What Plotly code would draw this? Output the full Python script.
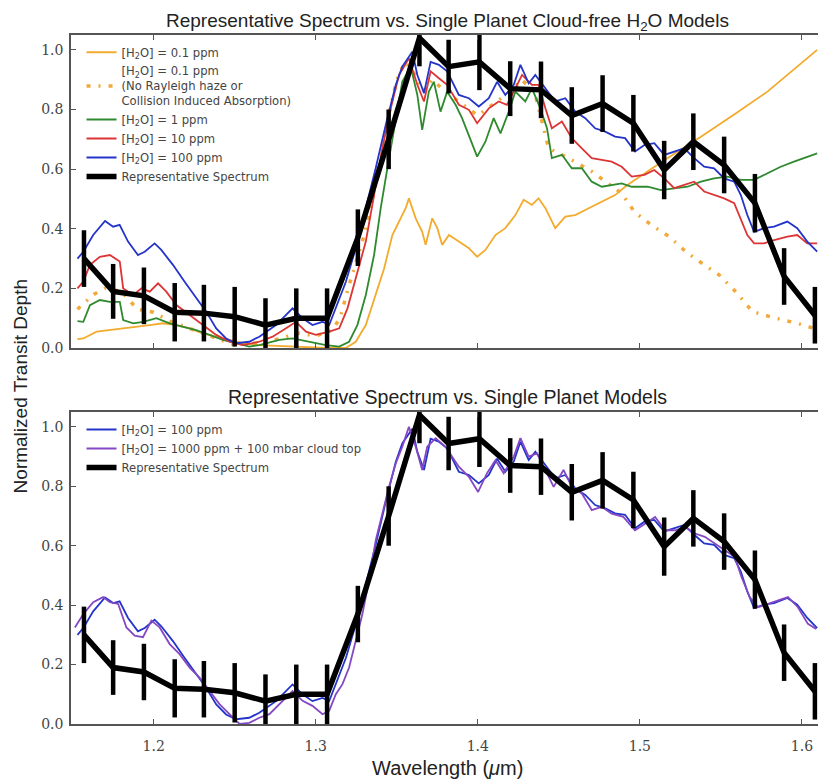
import plotly.graph_objects as go

# ---------------- data ----------------
rep_x = [1.157, 1.175, 1.194, 1.213, 1.231, 1.250, 1.269, 1.288, 1.307, 1.326, 1.345, 1.364, 1.382,
         1.401, 1.420, 1.439, 1.458, 1.477, 1.496, 1.515, 1.533, 1.552, 1.571, 1.589, 1.608]
rep_y = [0.30, 0.19, 0.175, 0.12, 0.117, 0.105, 0.077, 0.10, 0.10, 0.37, 0.70, 1.04, 0.944,
         0.96, 0.87, 0.866, 0.78, 0.82, 0.754, 0.597, 0.692, 0.614, 0.486, 0.24, 0.11]
rep_err = [0.095, 0.092, 0.095, 0.098, 0.095, 0.10, 0.09, 0.10, 0.10, 0.095, 0.10, 0.095, 0.09,
           0.095, 0.092, 0.095, 0.095, 0.095, 0.095, 0.098, 0.095, 0.095, 0.098, 0.095, 0.095]

blue_x = [1.1530, 1.1566, 1.1627, 1.1700, 1.1750, 1.1790, 1.1842, 1.1903, 1.1945, 1.2006, 1.2047, 1.2119,
          1.2190, 1.2262, 1.2324, 1.2386, 1.2447, 1.2509, 1.2590, 1.2652, 1.2755, 1.2857, 1.2919,
          1.2980, 1.3042, 1.3083, 1.3124, 1.3186, 1.3247, 1.3309, 1.3370, 1.3432, 1.3494, 1.3534,
          1.3596, 1.3627, 1.3668, 1.3709, 1.3760, 1.3811, 1.3883, 1.3945, 1.4006, 1.4068, 1.4119,
          1.4170, 1.4222, 1.4263, 1.4314, 1.4355, 1.4417, 1.4478, 1.4540, 1.4601, 1.4663, 1.4724,
          1.4786, 1.4847, 1.4909, 1.4970, 1.5028, 1.5089, 1.5151, 1.5212, 1.5274, 1.5335, 1.5397,
          1.5458, 1.5520, 1.5582, 1.5623, 1.5663, 1.5705, 1.5766, 1.5828, 1.5910, 1.5971, 1.6033,
          1.6094]
blue_y = [0.30, 0.323, 0.379, 0.426, 0.407, 0.413, 0.357, 0.312, 0.323, 0.351, 0.329, 0.279,
          0.223, 0.167, 0.122, 0.066, 0.032, 0.016, 0.021, 0.038, 0.077, 0.133, 0.100,
          0.077, 0.088, 0.077, 0.133, 0.222, 0.335, 0.469, 0.603, 0.748, 0.883, 0.944,
          0.994, 0.916, 0.855, 0.960, 0.950, 0.928, 0.849, 0.838, 0.810, 0.838, 0.893,
          0.849, 0.883, 0.950, 0.888, 0.916, 0.871, 0.827, 0.838, 0.793, 0.771, 0.737,
          0.726, 0.709, 0.704, 0.659, 0.681, 0.687, 0.648, 0.659, 0.670, 0.637, 0.608,
          0.603, 0.569, 0.558, 0.513, 0.446, 0.390, 0.402, 0.407, 0.424, 0.402, 0.357,
          0.323]

red_x = [1.1530, 1.1566, 1.1607, 1.1668, 1.1730, 1.1791, 1.1812, 1.1874, 1.1925, 1.1976, 1.2027, 1.2078,
         1.2140, 1.2222, 1.2303, 1.2386, 1.2468, 1.2550, 1.2652, 1.2734, 1.2817, 1.2878, 1.2940,
         1.3001, 1.3083, 1.3145, 1.3196, 1.3247, 1.3309, 1.3360, 1.3411, 1.3463, 1.3514, 1.3575,
         1.3627, 1.3668, 1.3709, 1.3760, 1.3811, 1.3883, 1.3945, 1.3996, 1.4068, 1.4129, 1.4180,
         1.4232, 1.4273, 1.4334, 1.4375, 1.4417, 1.4457, 1.4519, 1.4580, 1.4642, 1.4703, 1.4765,
         1.4826, 1.4888, 1.4950, 1.5028, 1.5089, 1.5151, 1.5212, 1.5274, 1.5335, 1.5397, 1.5458,
         1.5520, 1.5582, 1.5623, 1.5663, 1.5705, 1.5766, 1.5828, 1.5910, 1.5971, 1.6033, 1.6094]
red_y = [0.20, 0.223, 0.279, 0.306, 0.312, 0.290, 0.200, 0.178, 0.200, 0.189, 0.217, 0.189,
         0.144, 0.111, 0.077, 0.044, 0.021, 0.010, 0.021, 0.038, 0.066, 0.088, 0.055,
         0.044, 0.055, 0.066, 0.133, 0.234, 0.357, 0.513, 0.670, 0.804, 0.916, 0.972,
         0.883, 0.827, 0.928, 0.905, 0.883, 0.816, 0.799, 0.754, 0.804, 0.827, 0.816,
         0.871, 0.916, 0.883, 0.883, 0.804, 0.737, 0.760, 0.704, 0.670, 0.637, 0.631,
         0.625, 0.608, 0.575, 0.581, 0.597, 0.569, 0.536, 0.547, 0.558, 0.525, 0.513,
         0.502, 0.486, 0.435, 0.379, 0.351, 0.351, 0.362, 0.374, 0.379, 0.351, 0.351]

green_x = [1.1530, 1.1566, 1.1607, 1.1668, 1.1730, 1.1791, 1.1812, 1.1874, 1.1935, 1.2017, 1.2099, 1.2180,
           1.2262, 1.2345, 1.2427, 1.2509, 1.2590, 1.2652, 1.2775, 1.2857, 1.2960, 1.3063, 1.3145,
           1.3206, 1.3257, 1.3309, 1.3360, 1.3401, 1.3442, 1.3494, 1.3534, 1.3586, 1.3627, 1.3657,
           1.3698, 1.3729, 1.3770, 1.3811, 1.3863, 1.3903, 1.3945, 1.3996, 1.4047, 1.4098, 1.4140,
           1.4191, 1.4232, 1.4293, 1.4334, 1.4386, 1.4427, 1.4457, 1.4519, 1.4580, 1.4642, 1.4703,
           1.4765, 1.4826, 1.4888, 1.4950, 1.5048, 1.5130, 1.5212, 1.5294, 1.5377, 1.5458, 1.5540,
           1.5623, 1.5705, 1.5787, 1.5869, 1.5951, 1.6033, 1.6094]
green_y = [0.09, 0.088, 0.144, 0.161, 0.155, 0.155, 0.094, 0.083, 0.088, 0.100, 0.083, 0.072,
           0.060, 0.044, 0.027, 0.016, 0.005, 0.010, 0.027, 0.032, 0.021, 0.010, 0.005,
           0.021, 0.077, 0.178, 0.312, 0.469, 0.603, 0.771, 0.893, 0.944, 0.849, 0.732,
           0.860, 0.893, 0.793, 0.860, 0.816, 0.771, 0.715, 0.642, 0.692, 0.771, 0.720,
           0.793, 0.860, 0.827, 0.871, 0.804, 0.737, 0.637, 0.648, 0.603, 0.603, 0.558,
           0.541, 0.547, 0.552, 0.541, 0.541, 0.530, 0.536, 0.541, 0.558, 0.569, 0.575,
           0.564, 0.564, 0.586, 0.608, 0.625, 0.642, 0.653]

orange_x = [1.1530, 1.1566, 1.1648, 1.1730, 1.1812, 1.1893, 1.1976, 1.2057, 1.2140, 1.2222, 1.2303, 1.2386,
            1.2468, 1.2550, 1.2652, 1.2857, 1.3063, 1.3186, 1.3247, 1.3309, 1.3370, 1.3422, 1.3473,
            1.3514, 1.3555, 1.3575, 1.3617, 1.3657, 1.3678, 1.3719, 1.3750, 1.3780, 1.3822, 1.3883,
            1.3945, 1.3996, 1.4047, 1.4109, 1.4170, 1.4232, 1.4283, 1.4334, 1.4375, 1.4417, 1.4478,
            1.4540, 1.4601, 1.4663, 1.4724, 1.4786, 1.4847, 1.4909, 1.4966, 1.5151, 1.5377, 1.5600,
            1.5787, 1.6094]
orange_y = [0.03, 0.032, 0.055, 0.060, 0.066, 0.072, 0.077, 0.083, 0.077, 0.066, 0.049, 0.038,
            0.027, 0.016, 0.010, 0.005, 0.000, 0.000, 0.021, 0.077, 0.178, 0.267, 0.379,
            0.424, 0.469, 0.502, 0.435, 0.390, 0.346, 0.435, 0.402, 0.346, 0.379, 0.357,
            0.335, 0.306, 0.329, 0.379, 0.402, 0.446, 0.497, 0.480, 0.502, 0.469, 0.402,
            0.441, 0.446, 0.463, 0.480, 0.497, 0.513, 0.541, 0.563, 0.630, 0.709, 0.790,
            0.860, 1.000]

dotted_x = [1.1530, 1.1630, 1.1700, 1.1800, 1.1900, 1.2000, 1.2100, 1.2200, 1.2300, 1.2400, 1.2500,
            1.2700, 1.2900, 1.3000, 1.3100, 1.3150, 1.3200, 1.3300, 1.3400, 1.3450, 1.3500, 1.3550,
            1.3600, 1.3660, 1.3720, 1.3800, 1.3900, 1.4000, 1.4100, 1.4200, 1.4270, 1.4350, 1.4437,
            1.4550, 1.4703, 1.4888, 1.4966, 1.5069, 1.5180, 1.5284, 1.5397, 1.5490, 1.5602, 1.5694,
            1.5838, 1.5971, 1.6074]
dotted_y = [0.13, 0.18, 0.20, 0.19, 0.13, 0.12, 0.09, 0.07, 0.05, 0.03, 0.01,
            0.02, 0.05, 0.04, 0.06, 0.10, 0.20, 0.38, 0.62, 0.78, 0.90, 0.96,
            0.93, 0.86, 0.90, 0.86, 0.82, 0.78, 0.82, 0.86, 0.90, 0.86, 0.67,
            0.64, 0.592, 0.519, 0.457, 0.413, 0.374, 0.323, 0.279, 0.245, 0.183, 0.122,
            0.100, 0.083, 0.066]

purple_x = [1.1514, 1.1566, 1.1627, 1.1688, 1.1730, 1.1781, 1.1832, 1.1883, 1.1934, 1.1986, 1.2037, 1.2099,
            1.2160, 1.2222, 1.2283, 1.2345, 1.2406, 1.2468, 1.2530, 1.2590, 1.2652, 1.2714, 1.2775,
            1.2857, 1.2919, 1.2980, 1.3042, 1.3083, 1.3124, 1.3165, 1.3206, 1.3247, 1.3288, 1.3329,
            1.3370, 1.3411, 1.3452, 1.3494, 1.3534, 1.3575, 1.3617, 1.3657, 1.3688, 1.3740, 1.3801,
            1.3883, 1.3945, 1.4002, 1.4057, 1.4109, 1.4160, 1.4222, 1.4263, 1.4314, 1.4365, 1.4417,
            1.4468, 1.4529, 1.4580, 1.4642, 1.4703, 1.4765, 1.4826, 1.4898, 1.4970, 1.5032, 1.5094,
            1.5155, 1.5217, 1.5278, 1.5340, 1.5401, 1.5463, 1.5524, 1.5586, 1.5627, 1.5678, 1.5729,
            1.5791, 1.5852, 1.5914, 1.5975, 1.6037, 1.6088]
purple_y = [0.325, 0.370, 0.410, 0.427, 0.410, 0.404, 0.325, 0.297, 0.292, 0.348, 0.325, 0.269,
            0.235, 0.190, 0.156, 0.111, 0.067, 0.033, 0.000, 0.004, 0.021, 0.033, 0.067,
            0.111, 0.078, 0.061, 0.033, 0.044, 0.100, 0.134, 0.190, 0.280, 0.370, 0.483,
            0.618, 0.708, 0.798, 0.877, 0.933, 1.000, 0.933, 0.855, 0.933, 0.962, 0.933,
            0.866, 0.832, 0.781, 0.844, 0.888, 0.844, 0.900, 0.962, 0.900, 0.911, 0.855,
            0.798, 0.855, 0.798, 0.776, 0.720, 0.731, 0.708, 0.697, 0.652, 0.674, 0.697,
            0.652, 0.652, 0.663, 0.641, 0.630, 0.607, 0.584, 0.562, 0.495, 0.427, 0.393,
            0.404, 0.416, 0.427, 0.393, 0.337, 0.320]

H2O = "[H<sub>2</sub>O]"
top_names = [H2O + " = 0.1 ppm",
             H2O + " = 0.1 ppm<br>(No Rayleigh haze or<br>Collision Induced Absorption)",
             H2O + " = 1 ppm", H2O + " = 10 ppm", H2O + " = 100 ppm", "Representative Spectrum"]
bot_names = [H2O + " = 100 ppm", H2O + " = 1000 ppm + 100 mbar cloud top", "Representative Spectrum"]

C_OR = "#f2ab2c"
C_DOT = "#f3a93a"
C_GR = "#2f8a2f"
C_RD = "#dd3535"
C_BL = "#2434c8"
C_PU = "#8548c4"

fig = go.Figure()

def model(x, y, name, color, xa, ya, leg, dash="solid", width=1.8):
    fig.add_trace(go.Scatter(x=x, y=y, name=name, mode="lines",
                             line=dict(color=color, width=width, dash=dash),
                             xaxis=xa, yaxis=ya, legend=leg))

def rep(xa, ya, leg):
    fig.add_trace(go.Scatter(x=rep_x, y=rep_y, name="Representative Spectrum", mode="lines",
                             line=dict(color="black", width=5.5),
                             error_y=dict(type="data", array=rep_err, color="black",
                                          thickness=4.5, width=0),
                             xaxis=xa, yaxis=ya, legend=leg))

# top panel
model(orange_x, orange_y, top_names[0], C_OR, "x", "y", "legend")
model(dotted_x, dotted_y, top_names[1], C_DOT, "x", "y", "legend", dash="4px,8px,2px,8px", width=3.5)
model(green_x, green_y, top_names[2], C_GR, "x", "y", "legend")
model(red_x, red_y, top_names[3], C_RD, "x", "y", "legend")
model(blue_x, blue_y, top_names[4], C_BL, "x", "y", "legend")
rep("x", "y", "legend")

# bottom panel
model(blue_x, blue_y, bot_names[0], C_BL, "x2", "y2", "legend2")
model(purple_x, purple_y, bot_names[1], C_PU, "x2", "y2", "legend2")
rep("x2", "y2", "legend2")

axis_common = dict(showline=True, mirror="ticks", linecolor="#555", linewidth=1.5,
                   ticks="inside", ticklen=5, tickwidth=1, tickcolor="#555",
                   showgrid=False, zeroline=False,
                   tickfont=dict(family="DejaVu Serif", size=14, color="#444"))

x_range = [1.149, 1.613]
y_range = [0, 1.05]
tickv_x = [1.2, 1.3, 1.4, 1.5, 1.6]
tickv_y = [0.0, 0.2, 0.4, 0.6, 0.8, 1.0]

legend_font = dict(family="DejaVu Sans", size=11.6, color="#444")

fig.update_layout(
    width=818, height=773,
    margin=dict(l=63, r=1, t=27, b=57),
    paper_bgcolor="white", plot_bgcolor="white",
    showlegend=True,
    xaxis=dict(axis_common, domain=[0, 1], range=x_range, anchor="y",
               tickvals=tickv_x, showticklabels=False),
    yaxis=dict(axis_common, domain=[0.5457, 1.0], range=y_range, anchor="x",
               tickvals=tickv_y, tickformat=".1f", ticklabelstandoff=3),
    xaxis2=dict(axis_common, domain=[0, 1], range=x_range, anchor="y2",
                tickvals=tickv_x, tickformat=".1f", ticklabelstandoff=8),
    yaxis2=dict(axis_common, domain=[0, 0.4528], range=y_range, anchor="x2",
                tickvals=tickv_y, tickformat=".1f", ticklabelstandoff=3),
    legend=dict(x=0.014, y=0.996, xanchor="left", yanchor="top", bgcolor="rgba(255,255,255,0)",
                font=legend_font, tracegroupgap=0, itemwidth=30),
    legend2=dict(x=0.014, y=0.4485, xanchor="left", yanchor="top", bgcolor="rgba(255,255,255,0)",
                 font=legend_font, tracegroupgap=0, itemwidth=30),
    annotations=[
        dict(text="Representative Spectrum vs. Single Planet Cloud-free H<sub>2</sub>O Models",
             xref="paper", yref="paper", x=0.5, y=1.0, yshift=0, xanchor="center", yanchor="bottom",
             borderpad=0,
             showarrow=False, font=dict(family="Liberation Sans", size=19, color="#222")),
        dict(text="Representative Spectrum vs. Single Planet Models",
             xref="paper", yref="paper", x=0.5, y=0.4528, yshift=3, xanchor="center", yanchor="bottom",
             borderpad=0,
             showarrow=False, font=dict(family="Liberation Sans", size=19.5, color="#222")),
        dict(text="Normalized Transit Depth", xref="paper", yref="paper",
             x=0, xshift=-51, y=0.49, textangle=-90, xanchor="center", yanchor="middle",
             showarrow=False, font=dict(family="Liberation Sans", size=19, color="#222")),
        dict(text="Wavelength (<i>\u03bc</i>m)", xref="paper", yref="paper",
             x=0.5, y=0, yshift=-44, xanchor="center", yanchor="middle",
             showarrow=False, font=dict(family="Liberation Sans", size=20, color="#222")),
    ],
)

fig.write_html("out.html")
